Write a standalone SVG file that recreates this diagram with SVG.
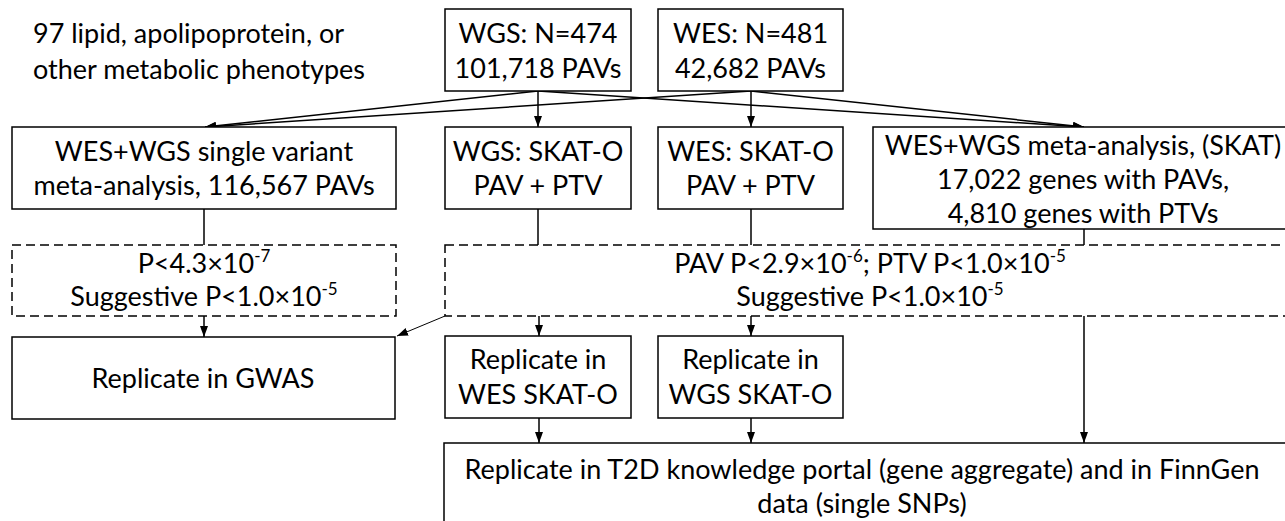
<svg xmlns="http://www.w3.org/2000/svg" width="1285" height="521" viewBox="0 0 1285 521">
<style>
text{font-family:Lato,"Liberation Sans",sans-serif;font-size:27px;fill:#000}
.c{text-anchor:middle}
.box{fill:#fff;stroke:#000;stroke-width:1.5}
.dash{fill:none;stroke:#000;stroke-width:1.5;stroke-dasharray:9 5}
.ln{fill:none;stroke:#000;stroke-width:1.5}
.thin{fill:none;stroke:#000;stroke-width:1}
.sup{font-size:17px}
</style>
<defs>
<marker id="ah" markerUnits="userSpaceOnUse" markerWidth="11" markerHeight="11" viewBox="0 0 11 10" refX="11" refY="5" orient="auto">
<path d="M0,1 L11,5 L0,9 Z" fill="#000"/>
</marker>
</defs>
<rect width="1285" height="521" fill="#fff"/>
<g id="connectors">
<line class="ln" x1="538" y1="91" x2="538" y2="127" marker-end="url(#ah)"/>
<line class="ln" x1="751" y1="91" x2="751" y2="127" marker-end="url(#ah)"/>
<line class="ln" x1="538" y1="91" x2="205" y2="127" marker-end="url(#ah)"/>
<line class="ln" x1="751" y1="91" x2="205" y2="127" marker-end="url(#ah)"/>
<line class="ln" x1="538" y1="91" x2="1084" y2="127" marker-end="url(#ah)"/>
<line class="ln" x1="751" y1="91" x2="1084" y2="127" marker-end="url(#ah)"/>
<line class="ln" x1="204" y1="209" x2="204" y2="245"/>
<line class="ln" x1="538" y1="209" x2="538" y2="245"/>
<line class="ln" x1="751" y1="209" x2="751" y2="245"/>
<line class="ln" x1="1084" y1="229" x2="1084" y2="245"/>
<line class="ln" x1="204" y1="316" x2="204" y2="337" marker-end="url(#ah)"/>
<line class="thin" x1="445" y1="316" x2="397" y2="336" marker-end="url(#ah)"/>
<line class="ln" x1="539" y1="316" x2="539" y2="336" marker-end="url(#ah)"/>
<line class="ln" x1="751" y1="316" x2="751" y2="336" marker-end="url(#ah)"/>
<line class="ln" x1="1084" y1="316" x2="1084" y2="443" marker-end="url(#ah)"/>
<line class="ln" x1="539" y1="418" x2="539" y2="443" marker-end="url(#ah)"/>
<line class="ln" x1="751" y1="418" x2="751" y2="443" marker-end="url(#ah)"/>
</g>
<g id="phenotypes">
<text x="33" y="43">97 lipid, apolipoprotein, or</text>
<text x="33" y="79">other metabolic phenotypes</text>
</g>
<g id="wgs">
<rect class="box" x="445" y="9" width="186" height="82"/>
<text class="c" x="538" y="43">WGS: N=474</text>
<text class="c" x="538" y="78">101,718 PAVs</text>
</g>
<g id="wes">
<rect class="box" x="658" y="9" width="185" height="82"/>
<text class="c" x="750.5" y="43">WES: N=481</text>
<text class="c" x="750.5" y="78">42,682 PAVs</text>
</g>
<g id="single-variant">
<rect class="box" x="12" y="127" width="384" height="82"/>
<text class="c" x="204" y="161">WES+WGS single variant</text>
<text class="c" x="204" y="195">meta-analysis, 116,567 PAVs</text>
</g>
<g id="wgs-skato">
<rect class="box" x="445" y="127" width="186" height="82"/>
<text class="c" x="538" y="161">WGS: SKAT-O</text>
<text class="c" x="538" y="195">PAV + PTV</text>
</g>
<g id="wes-skato">
<rect class="box" x="658" y="127" width="185" height="82"/>
<text class="c" x="750.5" y="161">WES: SKAT-O</text>
<text class="c" x="750.5" y="195">PAV + PTV</text>
</g>
<g id="meta-skat">
<rect class="box" x="873" y="127" width="420" height="102"/>
<text class="c" x="1083" y="155">WES+WGS meta-analysis, (SKAT)</text>
<text class="c" x="1083" y="189">17,022 genes with PAVs,</text>
<text class="c" x="1083" y="223">4,810 genes with PTVs</text>
</g>
<g id="threshold-single">
<rect class="dash" x="12" y="245" width="384" height="71"/>
<text class="c" x="204" y="273">P&lt;4.3×10<tspan class="sup" dy="-11">-7</tspan></text>
<text class="c" x="204" y="306">Suggestive P&lt;1.0×10<tspan class="sup" dy="-11">-5</tspan></text>
</g>
<g id="threshold-gene">
<rect class="dash" x="445" y="245" width="850" height="71"/>
<text class="c" x="870" y="273">PAV P&lt;2.9×10<tspan class="sup" dy="-11">-6</tspan><tspan dy="11">; PTV P&lt;1.0×10</tspan><tspan class="sup" dy="-11">-5</tspan></text>
<text class="c" x="870" y="306">Suggestive P&lt;1.0×10<tspan class="sup" dy="-11">-5</tspan></text>
</g>
<g id="gwas">
<rect class="box" x="12" y="337" width="383" height="82"/>
<text class="c" x="203" y="388">Replicate in GWAS</text>
</g>
<g id="rep-wes">
<rect class="box" x="445" y="336" width="186" height="82"/>
<text class="c" x="538" y="369">Replicate in</text>
<text class="c" x="538" y="404">WES SKAT-O</text>
</g>
<g id="rep-wgs">
<rect class="box" x="658" y="336" width="185" height="82"/>
<text class="c" x="750.5" y="369">Replicate in</text>
<text class="c" x="750.5" y="404">WGS SKAT-O</text>
</g>
<g id="t2d">
<rect class="box" x="444" y="443" width="851" height="100"/>
<text class="c" x="862" y="479">Replicate in T2D knowledge portal (gene aggregate) and in FinnGen</text>
<text class="c" x="862" y="513">data (single SNPs)</text>
</g>
</svg>
